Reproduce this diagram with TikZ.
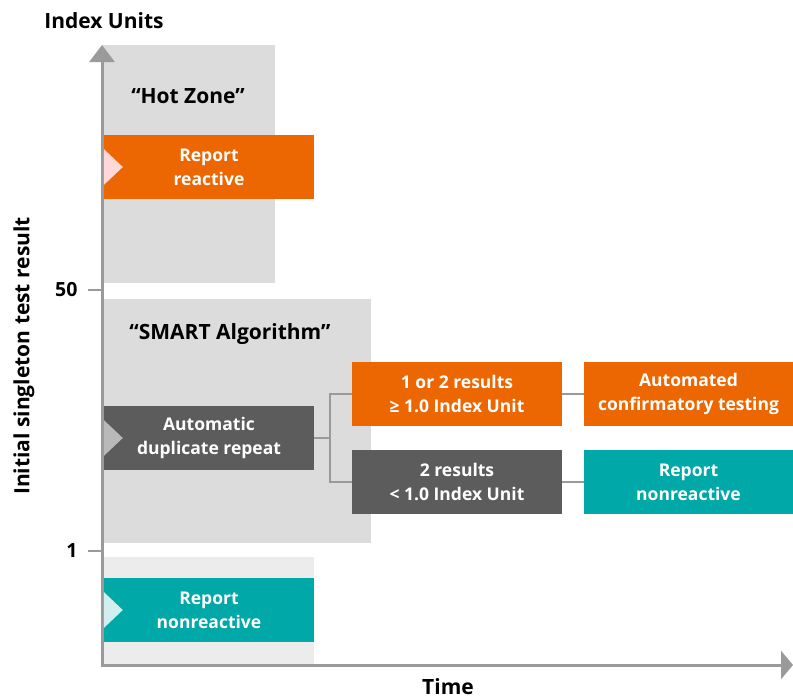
\documentclass[tikz,border=0pt]{standalone}
\usepackage{fontspec}
\setmainfont{Open Sans}
\usetikzlibrary{arrows.meta}

\definecolor{sorange}{HTML}{EC6602}
\definecolor{steal}{HTML}{00A8A8}
\definecolor{sdark}{HTML}{5B5C5B}
\definecolor{zonegray}{HTML}{DCDCDC}
\definecolor{zonelight}{HTML}{ECECEC}
\definecolor{axisgray}{HTML}{9A9A9A}

\tikzset{
  stepbox/.style={minimum width=210pt,minimum height=64pt,inner sep=0pt,
    text=white,font=\bfseries\fontsize{17.5}{24}\selectfont,align=center},
  link/.style={draw=axisgray,line width=2pt},
  zonelabel/.style={font=\bfseries\fontsize{21}{25}\selectfont},
  axislabel/.style={font=\bfseries\fontsize{21}{25}\selectfont}
}

\begin{document}
\begin{tikzpicture}[x=1pt,y=-1pt]
\useasboundingbox (0,0) rectangle (793,699);

% zones
\fill[zonegray] (102,45) rectangle (275,283);
\fill[zonegray] (102,299) rectangle (371,543);
\fill[zonelight] (102,557) rectangle (314,665);

\node[zonelabel] (hotlbl) at (188,96) {``Hot Zone''};
\node[zonelabel] (smartlbl) at (230,334) {``SMART Algorithm''};

% axes
\draw[axisgray,line width=3pt,-{Triangle[length=17pt,width=25pt]}] (102,666.5) -- (102,45);
\draw[axisgray,line width=3pt,-{Triangle[length=12pt,width=28pt]}] (100.5,665) -- (793,665);
\draw[axisgray,line width=2pt] (88,290) -- (102,290);
\draw[axisgray,line width=2pt] (88,551) -- (102,551);

\node[font=\bfseries\fontsize{19.5}{23}\selectfont,anchor=east] (t50) at (81,290) {50};
\node[font=\bfseries\fontsize{19.5}{23}\selectfont,anchor=east] (t1) at (81,551) {1};
\node[axislabel] (ylbl) at (104,21) {Index Units};
\node[axislabel,inner sep=0pt,anchor=base] (xlbl) at (448,694) {Time};
\node[axislabel,rotate=90] (ylong) at (24,356) {Initial singleton test result};

% boxes
\node[stepbox,fill=sorange] (react) at (209,167) {Report\\reactive};
\node[stepbox,fill=sdark] (adr) at (209,438) {Automatic\\duplicate repeat};
\node[stepbox,fill=steal] (nonreact) at (209,610) {Report\\nonreactive};

\node[stepbox,fill=sorange] (up) at (457,394) {1 or 2 results\\≥ 1.0 Index Unit};
\node[stepbox,fill=sdark] (low) at (457,482) {2 results\\< 1.0 Index Unit};
\node[stepbox,fill=sorange,minimum width=209pt] (confirm) at (688.5,394) {Automated\\confirmatory testing};
\node[stepbox,fill=steal,minimum width=209pt] (nonreact2) at (688.5,482) {Report\\nonreactive};

% markers on the left edge
\fill[red!15!white] (react.west) ++(0,-18) -- ++(19,18) -- ++(-19,18) -- cycle;
\fill[gray!55!white] (adr.west) ++(0,-18) -- ++(19,18) -- ++(-19,18) -- cycle;
\fill[steal!18!white] (nonreact.west) ++(0,-18) -- ++(19,18) -- ++(-19,18) -- cycle;

% connectors
\coordinate (fork) at (330,438);
\draw[link] (adr.east) -- (fork);
\draw[link] (fork) |- (up.west);
\draw[link] (fork) |- (low.west);
\draw[link] (up.east) -- (confirm.west);
\draw[link] (low.east) -- (nonreact2.west);

\end{tikzpicture}
\end{document}
